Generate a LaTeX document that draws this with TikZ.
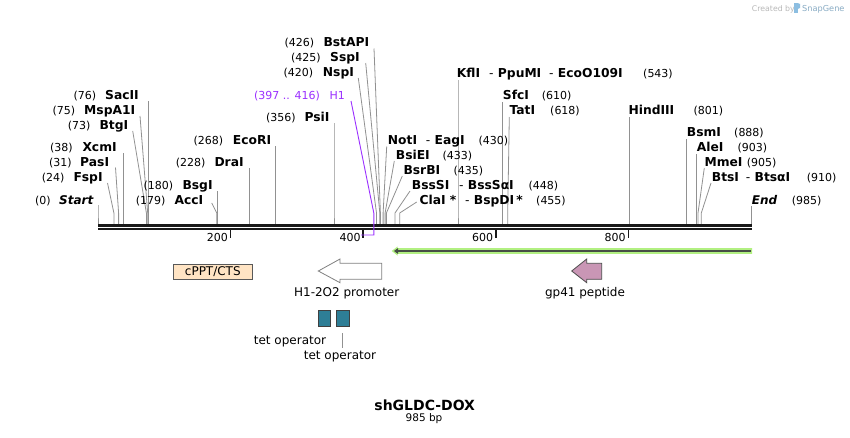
\documentclass[tikz,border=0pt]{standalone}
\usepackage{fontspec}
\setmainfont{DejaVu Sans}
\usetikzlibrary{arrows.meta}
\definecolor{cutgray}{RGB}{145,145,145}
\definecolor{bbone}{RGB}{25,25,25}
\definecolor{hpurple}{RGB}{155,48,255}
\definecolor{glowgreen}{RGB}{178,240,130}
\definecolor{darkline}{RGB}{70,78,70}
\definecolor{peachfill}{RGB}{255,228,196}
\definecolor{mauvefill}{RGB}{201,150,181}
\definecolor{tetfill}{RGB}{46,126,150}
\definecolor{wmgray}{RGB}{185,185,185}
\definecolor{wmblue}{RGB}{140,190,225}
\newcommand\cutl[3]{\draw[cut] (#1,#2) -- (#3,213) -- (#3,224);}
\begin{document}
\begin{tikzpicture}[x=1pt,y=-1pt,
  nm/.style={anchor=base west, inner sep=0pt, font=\bfseries\fontsize{12.3}{14}\selectfont},
  num/.style={anchor=base west, inner sep=0pt, font=\fontsize{11}{13}\selectfont},
  ticklab/.style={anchor=base east, inner sep=0pt, font=\fontsize{11}{13}\selectfont},
  featlab/.style={anchor=base, inner sep=0pt, font=\fontsize{12}{14}\selectfont},
  cut/.style={draw=cutgray, line width=0.8pt},
  tickmark/.style={draw=bbone, line width=1.5pt},
  featbox/.style={draw=black!65, line width=0.8pt}]
\useasboundingbox[fill=white] (0,0) rectangle (850,437);

% watermark
\node[anchor=base east, inner sep=0pt, text=wmgray, font=\fontsize{7.8}{9}\selectfont] (wm1) at (795,11) {Created by};
\fill[wmblue] (794,3) rectangle (797.5,13);
\fill[wmblue] (797.5,3) -- (800,4) -- (800,8) -- (797.5,9) -- cycle;
\node[anchor=base west, inner sep=0pt, text=wmblue!70!gray, font=\fontsize{8.2}{10}\selectfont] (wm2) at (802,11) {SnapGene};

% ---------- connectors ----------
\cutl{98}{205}{98}
\cutl{107.5}{183}{113.9}
\cutl{115.5}{167.5}{118.6}
\cutl{123.2}{153}{123.2}
\cutl{132.7}{131}{146.4}
\cutl{140}{116}{147.7}
\cutl{148.4}{101}{148.4}
\cutl{211.7}{203}{216.7}
\cutl{217.3}{191}{217.3}
\cutl{249.2}{168}{249.2}
\cutl{275.7}{146}{275.7}
\cutl{334}{123}{334}
\cutl{358.3}{78}{376.5}
\cutl{365.7}{63}{379.8}
\cutl{374}{48.5}{380.4}
\cutl{386.7}{146.5}{383.1}
\cutl{394.3}{161}{385.1}
\cutl{402.3}{176}{386.4}
\cutl{410}{191}{395}
\cutl{416.7}{202}{399.7}
\cutl{458}{80}{458}
\cutl{502.4}{102}{502.4}
\cutl{509.3}{117}{507.7}
\cutl{629.1}{117}{629.1}
\cutl{686.7}{139}{686.7}
\cutl{696.7}{154}{696.7}
\cutl{704.3}{168}{698}
\cutl{711}{183}{701.3}
\cutl{751.1}{206}{751.1}

% ---------- backbone ----------
\draw[bbone, line width=2.3pt] (98,225.5) -- (751.6,225.5);
\draw[bbone, line width=2.2pt] (98,229) -- (751.6,229);
\foreach \tx/\tl in {230.6/200, 363.2/400, 495.8/600, 628.4/800}{
  \draw[tickmark] (\tx,229) -- (\tx,237.5);
  \node[ticklab] (t\tl) at (\tx-2.5,241.5) {\tl};
}

% H1 feature bracket
\draw[hpurple, line width=0.9pt] (351,101) -- (373.8,213) -- (373.8,235) -- (361.2,235);

% ---------- enzyme labels ----------
\node[num] (p426) at (284.3,46) {(426)};   \node[nm] (bstapi) at (323.3,46) {BstAPI};
\node[num] (p425) at (291,61) {(425)};     \node[nm] (sspi) at (330,61) {SspI};
\node[num] (p420) at (283.3,76) {(420)};   \node[nm] (nspi) at (322.7,76) {NspI};
\node[num, text=hpurple] (p397) at (254,99) {(397 .. 416)};
\node[num, text=hpurple] (h1) at (329.3,99) {H1};
\node[num] (p356) at (266,121) {(356)};    \node[nm] (psii) at (304.3,121) {PsiI};
\node[num] (p268) at (193.3,144) {(268)};  \node[nm] (ecori) at (232.7,144) {EcoRI};
\node[num] (p228) at (175.7,166.5) {(228)};\node[nm] (drai) at (214.3,166.5) {DraI};
\node[num] (p180) at (143.3,189) {(180)};  \node[nm] (bsgi) at (182.3,189) {BsgI};
\node[num] (p179) at (135.7,204) {(179)};  \node[nm] (acci) at (174.3,204) {AccI};

\node[num] (p76) at (73.3,99) {(76)};      \node[nm] (sacii) at (105,99) {SacII};
\node[num] (p75) at (52.3,114) {(75)};     \node[nm] (mspa1i) at (84,114) {MspA1I};
\node[num] (p73) at (67.7,129) {(73)};     \node[nm] (btgi) at (99.3,129) {BtgI};
\node[num] (p38) at (50,151) {(38)};       \node[nm] (xcmi) at (82.3,151) {XcmI};
\node[num] (p31) at (49,166) {(31)};       \node[nm] (pasi) at (80,166) {PasI};
\node[num] (p24) at (41.7,181) {(24)};     \node[nm] (fspi) at (73.3,181) {FspI};
\node[num] (p0) at (35,204) {(0)};         \node[nm, font=\bfseries\itshape\fontsize{12}{14}\selectfont] (start) at (59,204) {Start};

\node[nm] (noti) at (387.7,144) {NotI};
\node[nm] (eagi) at (425.7,144) {{\mdseries -} EagI};
\node[num] (p430) at (478.3,144) {(430)};
\node[nm] (bsiei) at (395.7,159) {BsiEI};  \node[num] (p433) at (442.3,159) {(433)};
\node[nm] (bsrbi) at (403.3,174) {BsrBI};  \node[num] (p435) at (453.3,174) {(435)};
\node[nm] (bsssi) at (411.7,189) {BssSI};
\node[nm] (bsssai) at (459,189) {{\mdseries -} BssSαI};
\node[num] (p448) at (528.3,189) {(448)};
\node[nm] (clai) at (419.3,204) {ClaI *};
\node[nm] (bspdi) at (465,204) {{\mdseries -} BspDI\,*};
\node[num] (p455) at (536,204) {(455)};

\node[nm] (kfli) at (456.7,77) {KflI};
\node[nm] (ppumi) at (489,77) {{\mdseries -} PpuMI};
\node[nm] (eco) at (549,77) {{\mdseries -} EcoO109I};
\node[num] (p543) at (643,77) {(543)};
\node[nm] (sfci) at (502.7,99) {SfcI};     \node[num] (p610) at (541.7,99) {(610)};
\node[nm] (tati) at (509.3,114) {TatI};    \node[num] (p618) at (550,114) {(618)};
\node[nm] (hindiii) at (628.3,114) {HindIII}; \node[num] (p801) at (693.3,114) {(801)};
\node[nm] (bsmi) at (686.7,136.5) {BsmI};  \node[num] (p888) at (734,136.5) {(888)};
\node[nm] (alei) at (696.7,151.5) {AleI};  \node[num] (p903) at (737.3,151.5) {(903)};
\node[nm] (mmei) at (704.3,166.5) {MmeI};  \node[num] (p905) at (746.7,166.5) {(905)};
\node[nm] (btsi) at (711.7,181.5) {BtsI};
\node[nm] (btsai) at (745.7,181.5) {{\mdseries -} BtsαI};
\node[num] (p910) at (806.7,181.5) {(910)};
\node[nm, font=\bfseries\itshape\fontsize{12}{14}\selectfont] (endl) at (751.7,204) {End};
\node[num] (p985) at (791.7,204) {(985)};

% ---------- green arrow ----------
\fill[glowgreen] (391.7,251) -- (397.5,246.5) -- (397.5,248.2) -- (752,248.2) -- (752,253.8) -- (397.5,253.8) -- (397.5,255.5) -- cycle;
\draw[darkline, line width=2.4pt, -{Triangle[length=4pt,width=5.5pt]}] (751,251) -- (394,251);

% ---------- features ----------
\node[featbox, fill=peachfill, minimum width=79pt, minimum height=15pt, inner sep=0pt,
      font=\fontsize{12}{14}\selectfont] (cppt) at (212.8,271.8) {cPPT/CTS};

\draw[draw=black!50, line width=0.8pt, fill=white] (318.3,271) -- (340,259) -- (340,263.3) -- (381.7,263.3)
   -- (381.7,279.3) -- (340,279.3) -- (340,282.7) -- cycle;
\node[featlab] (h1prom) at (346.7,296.7) {H1-2O2 promoter};

\draw[draw=black!70, line width=0.8pt, fill=mauvefill] (571.7,271) -- (586.7,259) -- (586.7,263.3) -- (601.7,263.3)
   -- (601.7,279.3) -- (586.7,279.3) -- (586.7,282.7) -- cycle;
\node[featlab] (gp41) at (585,296.7) {gp41 peptide};

\draw[draw=black!75, line width=0.8pt, fill=tetfill] (318.3,310) rectangle (330.7,326.7);
\draw[draw=black!75, line width=0.8pt, fill=tetfill] (336,310) rectangle (349.3,326.7);
\node[featlab] (tet1) at (290,344) {tet operator};
\node[featlab] (tet2) at (340,359.5) {tet operator};
\draw[cut] (342.3,333) -- (342.3,348);

% ---------- title ----------
\node[anchor=base, inner sep=0pt, font=\bfseries\fontsize{14}{16}\selectfont] (title) at (424.7,410.7) {shGLDC-DOX};
\node[anchor=base, inner sep=0pt, font=\fontsize{10.5}{12}\selectfont] (len) at (424,421) {985 bp};
\end{tikzpicture}
\end{document}
